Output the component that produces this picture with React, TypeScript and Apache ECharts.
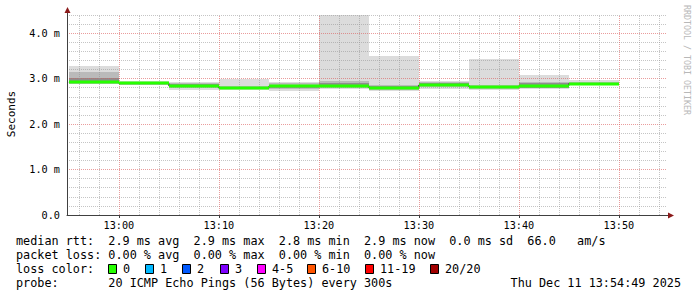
import React, { useEffect, useRef } from 'react';
import * as echarts from 'echarts';

// time in minutes since 12:00; each sample covers 5 minutes
const segStart = [55, 60, 65, 70, 75, 80, 85, 90, 95, 100, 105];
const segEnd = [60, 65, 70, 75, 80, 85, 90, 95, 100, 105, 110];
// seconds, in milliseconds units ("m")
const median = [2.92, 2.9, 2.84, 2.79, 2.83, 2.84, 2.8, 2.86, 2.82, 2.84, 2.89];
const pingMin = [2.88, 2.86, 2.76, 2.75, 2.73, 2.77, 2.73, 2.78, 2.76, 2.78, 2.87];
const pingMax = [3.28, 2.94, 2.93, 3.0, 2.92, 4.6, 3.5, 2.95, 3.43, 3.08, 2.98];
const midLow = [2.89, 2.87, 2.79, 2.77, 2.77, 2.8, 2.76, 2.81, 2.78, 2.79, 2.88];
const midHigh = [3.15, 2.92, 2.9, 2.83, 2.9, 2.95, 2.86, 2.93, 2.86, 2.93, 2.93];
const coreLow = [2.9, 2.88, 2.81, 2.78, 2.8, 2.81, 2.78, 2.83, 2.8, 2.8, 2.88];
const coreHigh = [3.02, 2.91, 2.88, 2.81, 2.87, 2.9, 2.83, 2.91, 2.84, 2.9, 2.91];

const xMajorTicks = [60, 70, 80, 90, 100, 110];
const xMinorStep = 2;
const yMax = 4.4;

const lossLabels = ['0', '1', '2', '3', '4-5', '6-10', '11-19', '20/20'];
const lossColors = ['#26ff00', '#00b8ff', '#0059ff', '#7e00ff', '#ff00ff', '#ff5500', '#ff0000', '#a10000'];
const lossBoxX = [108, 145, 182, 220, 257, 307, 365, 430];

const statLines = [
  'median rtt:  2.9 ms avg  2.9 ms max  2.8 ms min  2.9 ms now  0.0 ms sd  66.0   am/s',
  'packet loss: 0.00 % avg  0.00 % max  0.00 % min  0.00 % now',
  'loss color:',
  'probe:       20 ICMP Echo Pings (56 Bytes) every 300s',
];
const stamp = 'Thu Dec 11 13:54:49 2025';

const T0 = 54 + 49 / 60;
const T1 = T0 + 60;

const MONO = '"DejaVu Sans Mono", "Liberation Mono", monospace';
const MAJOR = 'rgba(220,90,90,0.6)';
const MINOR = 'rgba(150,150,150,0.55)';
const nb = (s: string) => s.replace(/ /g, '\u00a0');

function bandSeries(lo: number[], hi: number[], color: string, z: number) {
  return {
    type: 'custom',
    z,
    silent: true,
    clip: true,
    data: segStart.map((s, i) => [s, segEnd[i], lo[i], hi[i]]),
    encode: { x: [0, 1], y: [2, 3] },
    renderItem: (params: any, api: any) => {
      const p1 = api.coord([api.value(0), api.value(3)]);
      const p2 = api.coord([api.value(1), api.value(2)]);
      const cs = params.coordSys;
      const top = Math.round(Math.max(p1[1], cs.y));
      const x1 = Math.round(p1[0]);
      const x2 = Math.round(p2[0]);
      const bottom = Math.round(p2[1]);
      return {
        type: 'rect',
        shape: { x: x1, y: top, width: x2 - x1, height: bottom - top },
        style: { fill: color },
      };
    },
  };
}

export default function App() {
  const ref = useRef<HTMLDivElement>(null);
  useEffect(() => {
    document.body.style.margin = '0';
    const chart = echarts.init(ref.current!, undefined, { renderer: 'svg' });

    const vLines: number[] = [];
    for (let t = Math.ceil(T0 / xMinorStep) * xMinorStep; t < T1; t += xMinorStep) vLines.push(t);

    const stepData = segStart.map((s, i) => [s, median[i]]);
    stepData.push([segEnd[segEnd.length - 1], median[median.length - 1]]);

    const graphic: any[] = [];
    // axis extensions and arrows
    graphic.push({ type: 'line', shape: { x1: 67.5, y1: 15, x2: 67.5, y2: 11 }, style: { stroke: '#404040', lineWidth: 1 } });
    graphic.push({ type: 'polygon', shape: { points: [[64.5, 13], [70.5, 13], [67.5, 7]] }, style: { fill: '#8b1a1a' } });
    graphic.push({ type: 'line', shape: { x1: 667, y1: 215.5, x2: 670, y2: 215.5 }, style: { stroke: '#404040', lineWidth: 1 } });
    graphic.push({ type: 'polygon', shape: { points: [[668, 212.5], [668, 218.5], [674, 215.5]] }, style: { fill: '#8b1a1a' } });
    // y title
    graphic.push({
      type: 'text', x: 11, y: 114, rotation: Math.PI / 2,
      style: { text: 'Seconds', font: `11px ${MONO}`, fill: '#000', textAlign: 'center', textVerticalAlign: 'middle' },
    });
    // watermark
    graphic.push({
      type: 'text', x: 687, y: 5, rotation: -Math.PI / 2,
      style: { text: nb('RRDTOOL / TOBI OETIKER'), font: `8.3px ${MONO}`, fill: '#b8b8b8', textAlign: 'left', textVerticalAlign: 'middle' },
    });
    const rowY = [241, 255, 269, 283];
    statLines.forEach((s, i) => {
      graphic.push({
        type: 'text', x: 16, y: rowY[i],
        style: { text: nb(s), font: `11.8px ${MONO}`, fill: '#000', textAlign: 'left', textVerticalAlign: 'middle' },
      });
    });
    graphic.push({
      type: 'text', x: 681, y: rowY[3],
      style: { text: nb(stamp), font: `11.8px ${MONO}`, fill: '#000', textAlign: 'right', textVerticalAlign: 'middle' },
    });
    lossLabels.forEach((lab, i) => {
      graphic.push({
        type: 'rect', shape: { x: lossBoxX[i] + 0.5, y: rowY[2] - 4.5, width: 8, height: 9 },
        style: { fill: lossColors[i], stroke: '#000', lineWidth: 1 },
      });
      graphic.push({
        type: 'text', x: lossBoxX[i] + 15, y: rowY[2],
        style: { text: lab, font: `11.8px ${MONO}`, fill: '#000', textAlign: 'left', textVerticalAlign: 'middle' },
      });
    });

    const pad = (n: number) => (n < 10 ? '0' + n : '' + n);

    chart.setOption({
      animation: false,
      backgroundColor: '#ffffff',
      grid: { left: 67, right: 30, top: 15, bottom: 82, containLabel: false },
      xAxis: {
        type: 'value', min: T0, max: T1, z: 3,
        axisLine: { show: true, onZero: false, lineStyle: { color: '#404040', width: 1 } },
        axisTick: { show: true, customValues: xMajorTicks, length: 3, lineStyle: { color: '#404040' } },
        axisLabel: {
          customValues: xMajorTicks,
          formatter: (v: number) => `${12 + Math.floor(v / 60)}:${pad(Math.round(v % 60))}`,
          fontFamily: MONO, fontSize: 10.2, color: '#000', margin: 5,
        },
        splitLine: { show: false },
      },
      yAxis: {
        type: 'value', min: 0, max: yMax, interval: 0.2, z: 3,
        axisLine: { show: true, lineStyle: { color: '#404040', width: 1 } },
        axisTick: { show: false },
        axisLabel: {
          formatter: (v: number) => {
            if (Math.abs(v - Math.round(v)) > 1e-6) return '';
            const r = Math.round(v);
            return r === 0 ? '0.0' : r.toFixed(1) + ' m';
          },
          fontFamily: MONO, fontSize: 10.2, color: '#000', margin: 7,
        },
        splitLine: { show: true, lineStyle: { color: [MAJOR, MINOR, MINOR, MINOR, MINOR], type: [1, 1], width: 1 } },
      },
      series: [
        bandSeries(pingMin, pingMax, '#dcdcdc', 1),
        bandSeries(midLow, midHigh, '#bababa', 1),
        bandSeries(coreLow, coreHigh, '#8e8e8e', 1),
        {
          type: 'line', z: 4, silent: true, step: 'end', showSymbol: false, symbol: 'none',
          data: stepData,
          lineStyle: { color: '#202020', width: 1 },
          markLine: {
            silent: true, symbol: ['none', 'none'], label: { show: false }, animation: false,
            data: vLines.map((v) => ({
              xAxis: v,
              lineStyle: { color: v % 10 === 0 ? MAJOR : MINOR, type: [1, 1], width: 1 },
            })),
          },
        },
        {
          type: 'custom', z: 5, silent: true,
          data: segStart.map((s, i) => [s, segEnd[i], median[i]]),
          encode: { x: [0, 1], y: 2 },
          renderItem: (params: any, api: any) => {
            const p1 = api.coord([api.value(0), api.value(2)]);
            const p2 = api.coord([api.value(1), api.value(2)]);
            const x1 = Math.round(p1[0]);
            const x2 = Math.round(p2[0]);
            const y = Math.round(p1[1]);
            return {
              type: 'rect',
              shape: { x: x1, y: y - 1.5, width: x2 - x1, height: 3 },
              style: { fill: lossColors[0] },
            };
          },
        },
      ],
      graphic,
    });
    return () => chart.dispose();
  }, []);
  return <div ref={ref} style={{ width: 697, height: 297 }} />;
}
